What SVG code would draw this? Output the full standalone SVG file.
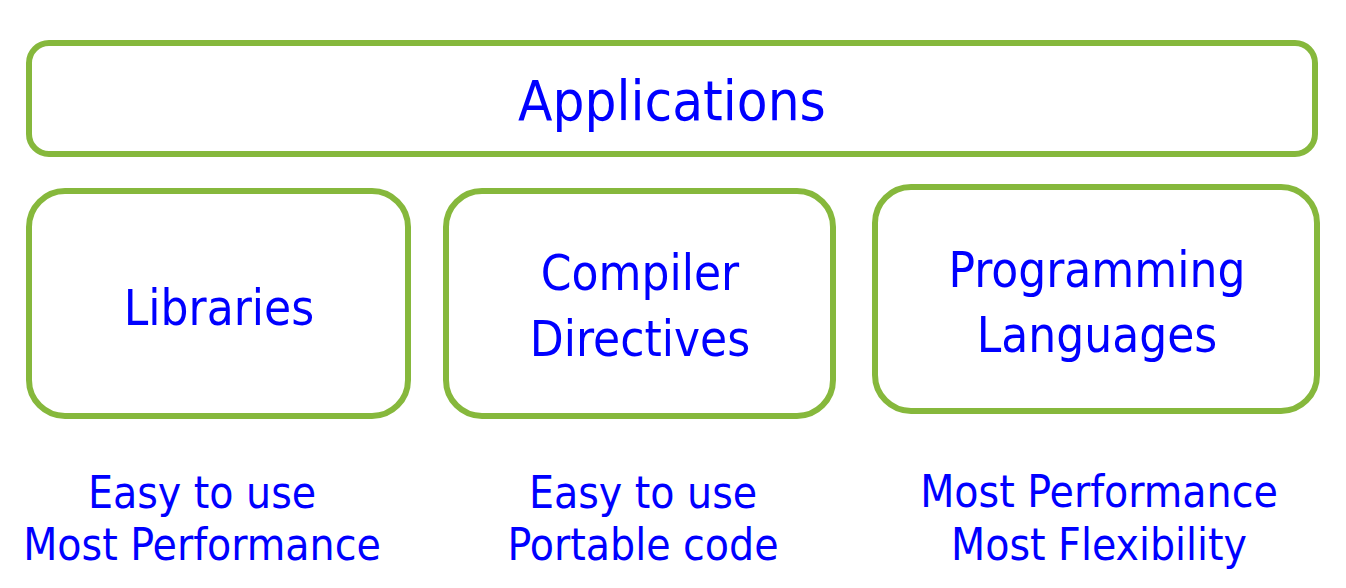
<svg xmlns="http://www.w3.org/2000/svg" width="1346" height="588" viewBox="0 0 1346 588">
<style>
.box{fill:#fff;stroke:#86B83C;stroke-width:6}
text{font-family:"DejaVu Sans Condensed","DejaVu Sans",sans-serif;fill:#0000FF;text-anchor:middle}
.big{font-size:56px}
.lbl{font-size:49px}
.note{font-size:44px}
</style>
<rect width="1346" height="588" fill="#fff"/>
<g id="applications">
<rect class="box" x="29" y="43" width="1286" height="111" rx="20"/>
<text class="big" x="672" y="120">Applications</text>
</g>
<g id="libraries">
<rect class="box" x="29" y="191" width="379" height="225" rx="36"/>
<text class="lbl" x="219" y="325">Libraries</text>
</g>
<g id="compiler">
<rect class="box" x="446" y="191" width="387" height="225" rx="36"/>
<text class="lbl" x="640" y="290">Compiler</text>
<text class="lbl" x="640" y="356">Directives</text>
</g>
<g id="programming">
<rect class="box" x="875" y="187" width="442" height="224" rx="36"/>
<text class="lbl" x="1097" y="287">Programming</text>
<text class="lbl" x="1097" y="352">Languages</text>
</g>
<g id="notes">
<text class="note" x="202" y="508">Easy to use</text>
<text class="note" x="202" y="560">Most Performance</text>
<text class="note" x="643" y="508">Easy to use</text>
<text class="note" x="643" y="560">Portable code</text>
<text class="note" x="1099" y="507">Most Performance</text>
<text class="note" x="1099" y="560">Most Flexibility</text>
</g>
<g id="connectors"/>
</svg>
